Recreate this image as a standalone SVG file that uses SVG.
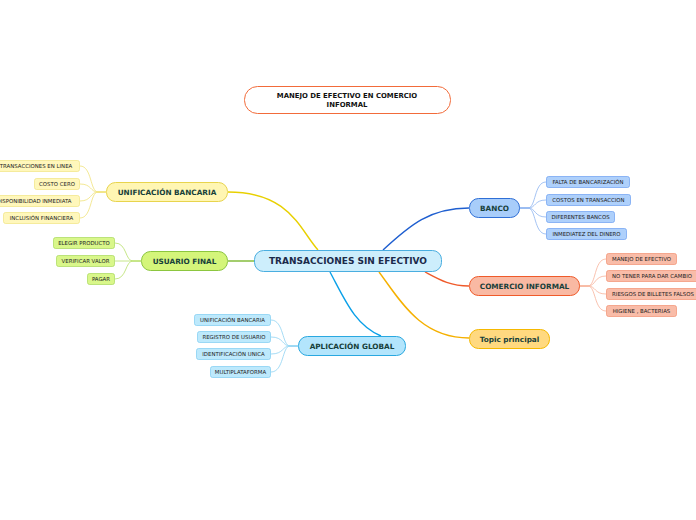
<svg xmlns="http://www.w3.org/2000/svg" width="696" height="520" viewBox="0 0 696 520">
<style>
text{font-family:"DejaVu Sans",Verdana,sans-serif;text-anchor:middle;dominant-baseline:central}
.c{font-size:9px;font-weight:bold;fill:#1b2a4a}
.s{font-size:7.3px;font-weight:bold;fill:#17403a}
.l{font-size:5.4px;fill:#222}
.t{font-size:6.9px;font-weight:bold;fill:#111}
.w{fill:none;stroke-width:0.8}
</style>
<rect width="696" height="520" fill="#fff"/>
<g id="connectors" fill="none">
<path d="M228,192 C290,192 300,230 318,250" stroke="#e8d000" stroke-width="1.4"/>
<path d="M228,261 L254,261" stroke="#7cb82f" stroke-width="1.4"/>
<path d="M330,272 C345,300 355,325 381,336" stroke="#0aa0e8" stroke-width="1.4"/>
<path d="M383,250 C410,225 430,208 469,208" stroke="#1f5fd0" stroke-width="1.4"/>
<path d="M425,272 C440,280 450,286 469,286" stroke="#ef5a2a" stroke-width="1.4"/>
<path d="M379,272 C400,300 420,338 469,338" stroke="#f5b000" stroke-width="1.4"/>
<g class="w" stroke="#f0e27a">
<path d="M106,192 H98 C90,192 92,166 80,166"/>
<path d="M106,192 H98 C90,192 92,184 80,184"/>
<path d="M106,192 H98 C90,192 92,201 80,201"/>
<path d="M106,192 H98 C90,192 92,218 80,218"/>
</g>
<g class="w" stroke="#b8e06a">
<path d="M141,261 H133 C125,261 127,243 115,243"/>
<path d="M141,261 H115"/>
<path d="M141,261 H133 C125,261 127,279 115,279"/>
</g>
<g class="w" stroke="#8fd3f2">
<path d="M298,346 H290 C282,346 284,320 271,320"/>
<path d="M298,346 H290 C282,346 284,337 271,337"/>
<path d="M298,346 H290 C282,346 284,354 271,354"/>
<path d="M298,346 H290 C282,346 284,372 271,372"/>
</g>
<g class="w" stroke="#8db4f0">
<path d="M519,208 H528 C536,208 534,182 546,182"/>
<path d="M519,208 H528 C536,208 534,200 546,200"/>
<path d="M519,208 H528 C536,208 534,217 546,217"/>
<path d="M519,208 H528 C536,208 534,234 546,234"/>
</g>
<g class="w" stroke="#f7b39a">
<path d="M579,286 H588 C596,286 594,259 606,259"/>
<path d="M579,286 H588 C596,286 594,276 606,276"/>
<path d="M579,286 H588 C596,286 594,294 606,294"/>
<path d="M579,286 H588 C596,286 594,311 606,311"/>
</g>
</g>
<g id="title">
<rect x="244.5" y="86.5" width="206" height="27" rx="13" fill="#fff" stroke="#f26b3a" stroke-width="1"/>
<text class="t" x="347" y="96">MANEJO DE EFECTIVO EN COMERCIO</text>
<text class="t" x="347" y="105">INFORMAL</text>
</g>
<g id="central">
<rect x="254.5" y="250.5" width="187" height="21" rx="9" fill="#cdeefc" stroke="#4aaee0" stroke-width="1"/>
<text class="c" x="348" y="261">TRANSACCIONES SIN EFECTIVO</text>
</g>
<g id="unificacion">
<rect x="106.5" y="182.5" width="121" height="19" rx="9" fill="#fff6b3" stroke="#e8d44d" stroke-width="1"/>
<text class="s" x="167" y="192">UNIFICACIÓN BANCARIA</text>
</g>
<g id="u1"><rect x="-10" y="160.5" width="89.5" height="11" rx="2" fill="#fff7bb" stroke="#f1e47f" stroke-width="0.7"/><text class="l" x="36" y="166">TRANSACCIONES EN LINEA</text></g>
<g id="u2"><rect x="34.5" y="178.5" width="45" height="11" rx="2" fill="#fff7bb" stroke="#f1e47f" stroke-width="0.7"/><text class="l" x="57" y="184">COSTO CERO</text></g>
<g id="u3"><rect x="-10" y="195.5" width="89.5" height="11" rx="2" fill="#fff7bb" stroke="#f1e47f" stroke-width="0.7"/><text class="l" x="34" y="201">DISPONIBILIDAD INMEDIATA</text></g>
<g id="u4"><rect x="3.5" y="212.5" width="76" height="11" rx="2" fill="#fff7bb" stroke="#f1e47f" stroke-width="0.7"/><text class="l" x="41.5" y="218">INCLUSIÓN FINANCIERA</text></g>
<g id="usuario">
<rect x="141.5" y="251.5" width="86" height="19" rx="9" fill="#d4f57a" stroke="#8cc63f" stroke-width="1"/>
<text class="s" x="184.5" y="261">USUARIO FINAL</text>
</g>
<g id="f1"><rect x="53.5" y="237.5" width="61" height="11" rx="2" fill="#d9f78a" stroke="#a8d85a" stroke-width="0.7"/><text class="l" x="84" y="243">ELEGIR PRODUCTO</text></g>
<g id="f2"><rect x="56.5" y="255.5" width="58" height="11" rx="2" fill="#d9f78a" stroke="#a8d85a" stroke-width="0.7"/><text class="l" x="85.5" y="261">VERIFICAR VALOR</text></g>
<g id="f3"><rect x="87.5" y="273.5" width="27" height="11" rx="2" fill="#d9f78a" stroke="#a8d85a" stroke-width="0.7"/><text class="l" x="101" y="279">PAGAR</text></g>
<g id="aplicacion">
<rect x="298.5" y="336.5" width="107" height="19" rx="9" fill="#b3e5fc" stroke="#29a8e0" stroke-width="1"/>
<text class="s" x="352" y="346">APLICACIÓN GLOBAL</text>
</g>
<g id="a1"><rect x="194.5" y="314.5" width="76" height="11" rx="2" fill="#bde9fc" stroke="#7cccf0" stroke-width="0.7"/><text class="l" x="232.5" y="320">UNIFICACIÓN BANCARIA</text></g>
<g id="a2"><rect x="197.5" y="331.5" width="73" height="11" rx="2" fill="#bde9fc" stroke="#7cccf0" stroke-width="0.7"/><text class="l" x="234" y="337">REGISTRO DE USUARIO</text></g>
<g id="a3"><rect x="196.5" y="348.5" width="74" height="11" rx="2" fill="#bde9fc" stroke="#7cccf0" stroke-width="0.7"/><text class="l" x="233.5" y="354">IDENTIFICACIÓN UNICA</text></g>
<g id="a4"><rect x="210.5" y="366.5" width="60" height="11" rx="2" fill="#bde9fc" stroke="#7cccf0" stroke-width="0.7"/><text class="l" x="240.5" y="372">MULTIPLATAFORMA</text></g>
<g id="banco">
<rect x="469.5" y="198.5" width="50" height="19" rx="9" fill="#a8cdfa" stroke="#2f6fd6" stroke-width="1"/>
<text class="s" x="494.5" y="208">BANCO</text>
</g>
<g id="b1"><rect x="546.5" y="176.5" width="83" height="11" rx="2" fill="#aed0fb" stroke="#6a9ef0" stroke-width="0.7"/><text class="l" x="588" y="182">FALTA DE BANCARIZACIÓN</text></g>
<g id="b2"><rect x="546.5" y="194.5" width="84" height="11" rx="2" fill="#aed0fb" stroke="#6a9ef0" stroke-width="0.7"/><text class="l" x="588.5" y="200">COSTOS EN TRANSACCION</text></g>
<g id="b3"><rect x="546.5" y="211.5" width="68" height="11" rx="2" fill="#aed0fb" stroke="#6a9ef0" stroke-width="0.7"/><text class="l" x="580.5" y="217">DIFERENTES BANCOS</text></g>
<g id="b4"><rect x="546.5" y="228.5" width="80" height="11" rx="2" fill="#aed0fb" stroke="#6a9ef0" stroke-width="0.7"/><text class="l" x="586.5" y="234">INMEDIATEZ DEL DINERO</text></g>
<g id="comercio">
<rect x="469.5" y="276.5" width="110" height="19" rx="9" fill="#f9b9a3" stroke="#ef5a2a" stroke-width="1"/>
<text class="s" x="524.5" y="286">COMERCIO INFORMAL</text>
</g>
<g id="c1"><rect x="606.5" y="253.5" width="70" height="11" rx="2" fill="#f9bca8" stroke="#f28f70" stroke-width="0.7"/><text class="l" x="641.5" y="259">MANEJO DE EFECTIVO</text></g>
<g id="c2"><rect x="606.5" y="270.5" width="95" height="11" rx="2" fill="#f9bca8" stroke="#f28f70" stroke-width="0.7"/><text class="l" x="652" y="276">NO TENER PARA DAR CAMBIO</text></g>
<g id="c3"><rect x="606.5" y="288.5" width="95" height="11" rx="2" fill="#f9bca8" stroke="#f28f70" stroke-width="0.7"/><text class="l" x="653" y="294">RIESGOS DE BILLETES FALSOS</text></g>
<g id="c4"><rect x="606.5" y="305.5" width="70" height="11" rx="2" fill="#f9bca8" stroke="#f28f70" stroke-width="0.7"/><text class="l" x="641.5" y="311">HIGIENE , BACTERIAS</text></g>
<g id="topic">
<rect x="469.5" y="329.5" width="80" height="19" rx="9" fill="#ffd980" stroke="#f5b800" stroke-width="1"/>
<text class="s" x="509.5" y="339">Topic principal</text>
</g>
</svg>
